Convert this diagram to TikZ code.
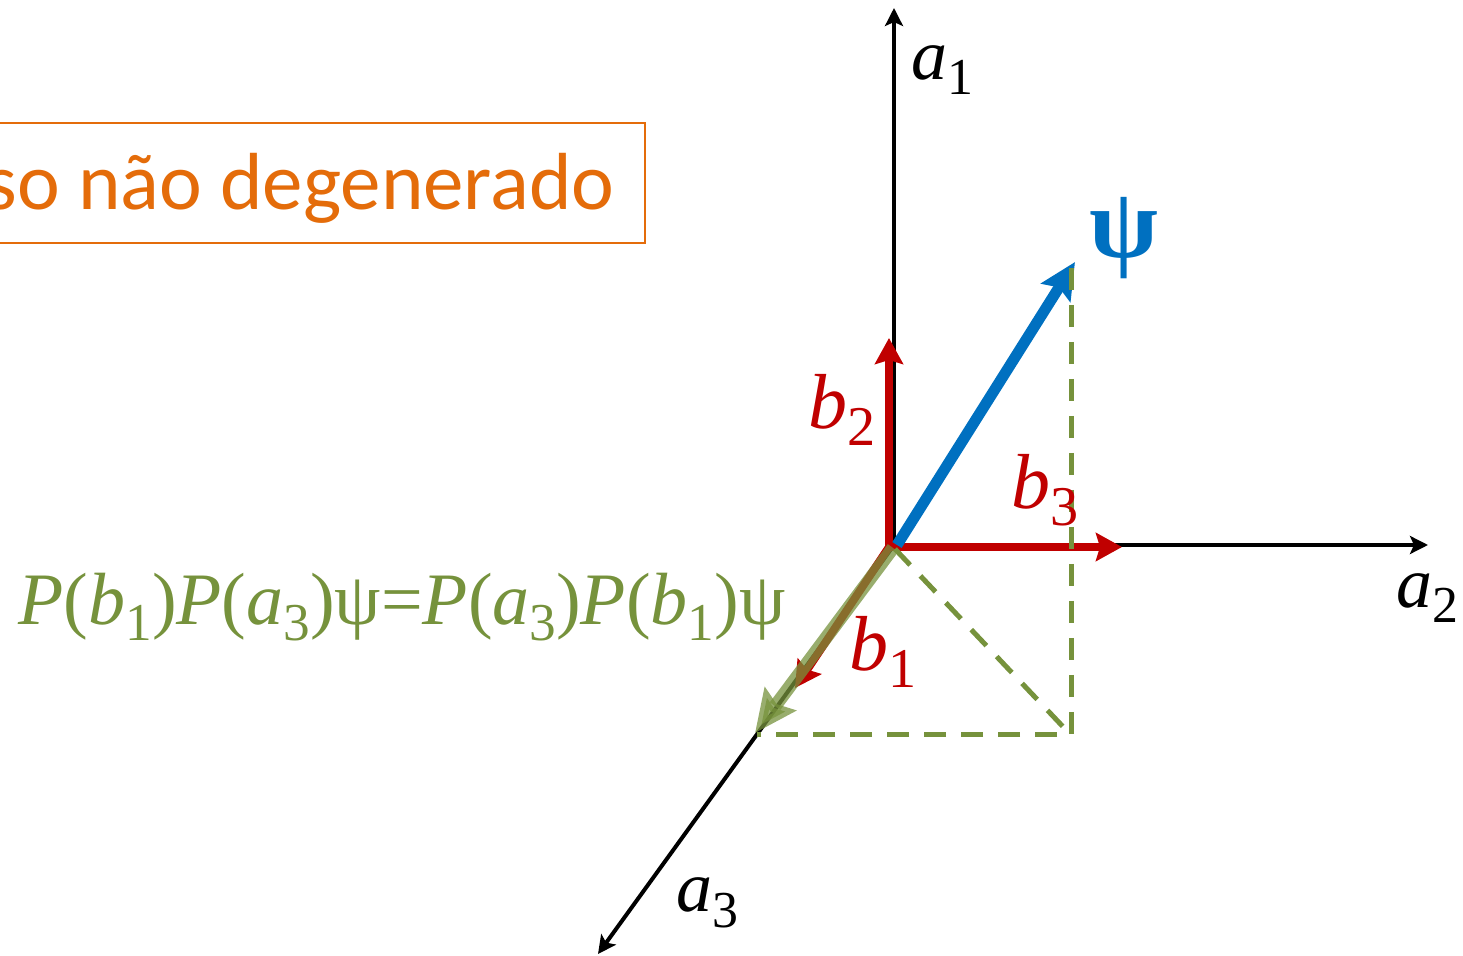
\documentclass[tikz,border=0pt]{standalone}
\usepackage{fontspec}
\setmainfont{Liberation Serif}
\newfontfamily\calibrifont{Carlito}
\usetikzlibrary{arrows.meta}
\definecolor{myred}{HTML}{C00000}
\definecolor{myblue}{HTML}{0070C0}
\definecolor{mygreen}{HTML}{76923C}
\definecolor{myorange}{HTML}{E46C0A}
\newcommand\lbl[2]{\textit{#1}\raisebox{-0.22em}{\scalebox{0.72}{#2}}}
\tikzset{
  axis/.style={line width=2pt, black, -{Stealth[length=9pt,width=9pt,inset=2pt]}},
  redvec/.style={line width=4pt, myred, -{Stealth[length=13pt,width=14pt,inset=2pt]}},
  bluevec/.style={line width=5.5pt, myblue, -{Stealth[length=18pt,width=17pt,inset=3pt]}},
  greenvec/.style={line width=6.5pt, mygreen, opacity=0.75, -{Stealth[length=21pt,width=19pt,inset=3pt]}},
  proj/.style={line width=2.5pt, mygreen, dash pattern=on 11pt off 7.5pt},
  alabel/.style={font=\fontsize{36}{43}\selectfont, inner sep=0pt},
  blabel/.style={font=\fontsize{39}{46}\selectfont, text=myred, inner sep=0pt},
}
\begin{document}
\begin{tikzpicture}[x=0.5pt,y=-0.5pt]
\useasboundingbox (0,0) rectangle (1463,956);
% title box
\node[text=myorange, font=\calibrifont\fontsize{40.5}{48}\selectfont,
      anchor=base east, inner sep=0pt] (title) at (615,210) {so não degenerado};
\draw[myorange, line width=1pt] (-40,123) rectangle (645,243);
% coordinates
\coordinate (O) at (894,545);
\coordinate (A1) at (894,8);
\coordinate (A2) at (1428,545);
\coordinate (A3) at (598,954);
\coordinate (R) at (889,547);
\coordinate (B2) at (889,338);
\coordinate (B3) at (1122,547);
\coordinate (B1) at (795,688);
\coordinate (PsiS) at (897,545);
\coordinate (Psi) at (1075,262);
\coordinate (GS) at (893,548);
\coordinate (G) at (755,733);
\coordinate (P1) at (1071,268);
\coordinate (P2) at (1071,735);
\coordinate (P3) at (757,735);
\coordinate (D1) at (895,549);
\coordinate (D2) at (1068,732);
% axes
\draw[axis] (O) -- (A1);
\draw[axis] (O) -- (A2);
\draw[axis] (O) -- (A3);
% red basis vectors
\draw[redvec] (R) -- (B2);
\draw[redvec] (R) -- (B3);
\draw[redvec] (R) -- (B1);
% psi
\draw[bluevec] (PsiS) -- (Psi);
% projections
\draw[proj] (P1) -- (P2) -- (P3);
\draw[proj] (D1) -- (D2);
% green projected vector
\draw[greenvec] (GS) -- (G);
% labels
\node[alabel] (la1) at (942,70) {\lbl{a}{1}};
\node[alabel] (la2) at (1427,598) {\lbl{a}{2}};
\node[alabel] (la3) at (707,903) {\lbl{a}{3}};
\node[blabel] (lb2) at (842,410) {\lbl{b}{2}};
\node[blabel] (lb3) at (1045,490) {\lbl{b}{3}};
\node[blabel] (lb1) at (883,652) {\lbl{b}{1}};
\node[inner sep=0pt, text=myblue, font=\bfseries\fontsize{50}{60}\selectfont] (lpsi) at (1124,238) {ψ};
\node[inner sep=0pt, text=mygreen, font=\fontsize{37}{44}\selectfont] (eq) at (402,607)
  {\textit{P}(\lbl{b}{1})\textit{P}(\lbl{a}{3})ψ=\textit{P}(\lbl{a}{3})\textit{P}(\lbl{b}{1})ψ};
\end{tikzpicture}
\end{document}
